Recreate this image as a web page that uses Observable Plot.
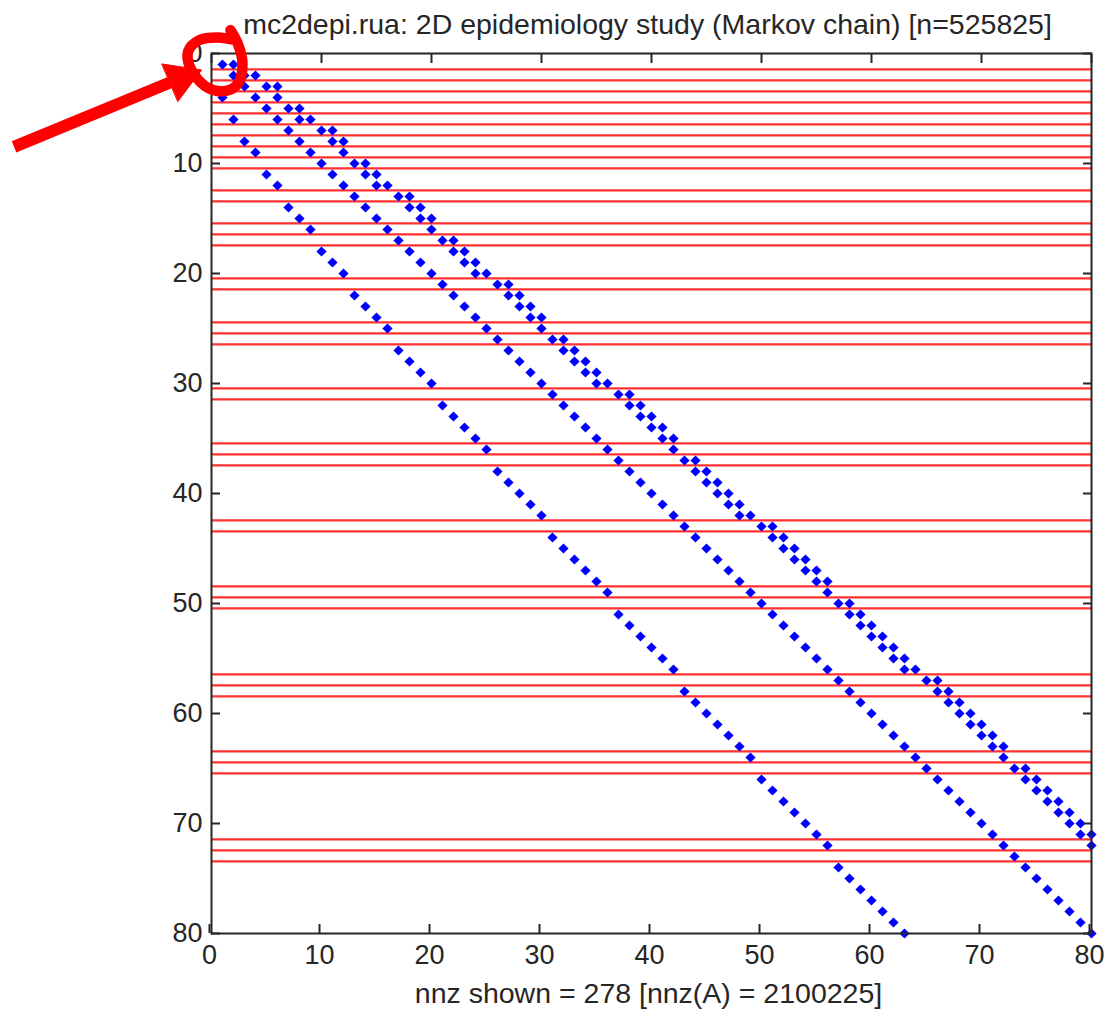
<!DOCTYPE html>
<html>
<head>
<meta charset="utf-8">
<script src="https://cdn.jsdelivr.net/npm/d3@7"></script>
<script src="https://cdn.jsdelivr.net/npm/@observablehq/plot@0.6"></script>
<style>
  html, body { margin: 0; padding: 0; background: #ffffff; }
  #chart svg { display: block; overflow: visible; }
</style>
</head>
<body>
<div id="chart"></div>
<script>
// ---- texts ----
const titleText = "mc2depi.rua: 2D epidemiology study (Markov chain) [n=525825]";
const xLabelText = "nnz shown = 278 [nnz(A) = 2100225]";
const tickValues = [0, 10, 20, 30, 40, 50, 60, 70, 80];

// ---- matrix rows shown (1..80) and nonzero columns in each row ----
const rowNumbers = [1,2,3,4,5,6,7,8,9,10,11,12,13,14,15,16,17,18,19,20,
  21,22,23,24,25,26,27,28,29,30,31,32,33,34,35,36,37,38,39,40,
  41,42,43,44,45,46,47,48,49,50,51,52,53,54,55,56,57,58,59,60,
  61,62,63,64,65,66,67,68,69,70,71,72,73,74,75,76,77,78,79,80];

const colsByRow = [
  [1,2], [2,3,4], [3,5,6], [1,4,6], [5,7,8], [2,6,8,9],
  [7,10,11], [3,8,11,12], [4,9,12],
  [10,13,14], [5,11,14,15], [6,12,15,16],
  [13,17,18], [7,14,18,19], [8,15,19,20], [9,16,20],
  [17,21,22], [10,18,22,23], [11,19,23,24], [12,20,24,25],
  [21,26,27], [13,22,27,28], [14,23,28,29], [15,24,29,30], [16,25,30],
  [26,31,32], [17,27,32,33], [18,28,33,34], [19,29,34,35], [20,30,35,36],
  [31,37,38], [21,32,38,39], [22,33,39,40], [23,34,40,41], [24,35,41,42], [25,36,42],
  [37,43,44], [26,38,44,45], [27,39,45,46], [28,40,46,47], [29,41,47,48], [30,42,48,49],
  [43,50,51], [31,44,51,52], [32,45,52,53], [33,46,53,54], [34,47,54,55], [35,48,55,56], [36,49,56],
  [50,57,58], [37,51,58,59], [38,52,59,60], [39,53,60,61], [40,54,61,62], [41,55,62,63], [42,56,63,64],
  [57,65,66], [43,58,66,67], [44,59,67,68], [45,60,68,69], [46,61,69,70], [47,62,70,71], [48,63,71,72], [49,64,72],
  [65,73,74], [50,66,74,75], [51,67,75,76], [52,68,76,77], [53,69,77,78], [54,70,78,79], [55,71,79,80], [56,72,80],
  [73], [57,74], [58,75], [59,76], [60,77], [61,78], [62,79], [63,80]
];

// ---- red horizontal marker lines (row positions) ----
const redLineRows = [1.45, 2.45, 3.45, 4.45, 5.45, 6.45, 7.45, 8.45, 9.45, 10.45,
  12.45, 13.45, 15.45, 16.45, 17.45, 20.45, 21.45, 24.45, 25.45, 26.45,
  30.45, 31.45, 35.45, 36.45, 37.45, 42.45, 43.45, 48.45, 49.45, 50.45,
  56.45, 57.45, 58.45, 63.45, 64.45, 65.45, 71.45, 72.45, 73.45];

// ---- hand-drawn annotation (in matrix coordinates: x = column, y = row) ----
const arrowShaftX = [-17.95, -3.77];
const arrowShaftY = [8.49, 2.64];
const arrowHeadX = [-4.5, -0.9, -3.05];
const arrowHeadY = [0.95, 1.5, 4.35];
const loopX = [1.72, 2.39, 2.82, 2.39, 1.06, -0.61, -1.94, -2.11, -1.11, 0.57, 2.22];
const loopY = [-2.12, -0.89, 0.94, 2.77, 3.43, 2.94, 1.28, -0.23, -1.22, -1.46, -1.22];

// ---- build tables ----
const points = rowNumbers.flatMap((r, k) => colsByRow[k].map(c => ({row: r, col: c})));
const shaft = arrowShaftX.map((x, i) => ({x, y: arrowShaftY[i]}));
const head = arrowHeadX.map((x, i) => ({x, y: arrowHeadY[i]}));
const loop = loopX.map((x, i) => ({x, y: loopY[i]}));

const FONT = "'Liberation Sans', Arial, Helvetica, sans-serif";
const INK = "#262626";
const FS = 28.5;
const TFS = 27;

const chart = Plot.plot({
  width: 1105,
  height: 1012,
  marginLeft: 211,
  marginRight: 14,
  marginTop: 53,
  marginBottom: 79,
  style: {fontFamily: FONT, color: INK, background: "#ffffff", overflow: "visible"},
  x: {domain: [0, 80]},
  y: {domain: [0, 80], reverse: true},
  marks: [
    Plot.ruleY(redLineRows, {y: d => d, stroke: "#ff3030", strokeWidth: 2.2}),
    Plot.dot(points, {x: "col", y: "row", symbol: "diamond2", r: 4.6, fill: "#0000ff", stroke: "none"}),
    Plot.frame({stroke: INK, strokeWidth: 2}),
    Plot.axisX(tickValues, {anchor: "bottom", tickSize: -9, tickPadding: 20, label: null, fontSize: TFS, dx: -2, strokeWidth: 2}),
    Plot.axisX(tickValues, {anchor: "top", tickSize: -9, tickFormat: () => "", label: null, strokeWidth: 2}),
    Plot.axisY(tickValues, {anchor: "left", tickSize: -9, tickPadding: 18, label: null, fontSize: TFS, strokeWidth: 2}),
    Plot.axisY(tickValues, {anchor: "right", tickSize: -9, tickFormat: () => "", label: null, strokeWidth: 2}),
    Plot.text([titleText], {frameAnchor: "top", lineAnchor: "bottom", dy: -20, dx: -4, fontSize: FS, fill: INK}),
    Plot.text([xLabelText], {frameAnchor: "bottom", lineAnchor: "bottom", dy: 69, dx: -3, fontSize: FS, fill: INK}),
    Plot.line(shaft, {x: "x", y: "y", stroke: "#ff0000", strokeWidth: 12, strokeLinecap: "butt"}),
    Plot.line(head, {x: "x", y: "y", curve: "linear-closed", fill: "#ff0000", stroke: "#ff0000", strokeWidth: 1}),
    Plot.line(loop, {x: "x", y: "y", curve: "catmull-rom", stroke: "#ff0000", strokeWidth: 10.5, strokeLinecap: "round", strokeLinejoin: "round"})
  ]
});
document.getElementById("chart").appendChild(chart);
</script>
</body>
</html>
